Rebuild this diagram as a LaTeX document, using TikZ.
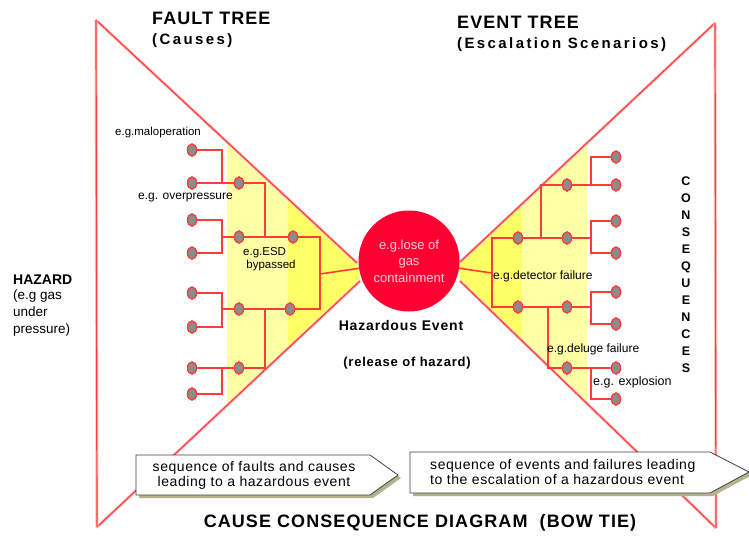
\documentclass[tikz,border=0pt]{standalone}
\usepackage{fontspec}
\setmainfont{Liberation Sans}
\newfontfamily\headfont[LetterSpace=6]{Liberation Sans}
\newfontfamily\subheadfont[LetterSpace=16]{Liberation Sans}
\newfontfamily\boxfont[LetterSpace=4]{Liberation Sans}
\usetikzlibrary{shapes.geometric}

\definecolor{tiered}{HTML}{FF3B3B}
\definecolor{tiehalo}{HTML}{FFC4C4}
\definecolor{eventred}{HTML}{FF0033}
\definecolor{eventtext}{HTML}{FFD0D8}
\definecolor{paleyellow}{HTML}{FFFFA6}
\definecolor{brightyellow}{HTML}{FFFF66}
\definecolor{knotgray}{HTML}{8C8C8C}
\definecolor{boxshadow}{HTML}{B4B48C}
\definecolor{boxline}{HTML}{404040}

\newcommand\setfs[1]{\fontsize{#1}{#1}\selectfont}

\tikzset{
  outline/.style={draw=tiered, line width=1.2pt, preaction={draw=tiehalo, line width=3pt}},
  branch/.style={draw=tiered, line width=1.6pt},
  twig/.style={draw=tiered, line width=2.2pt},
  knot/.style={ellipse, fill=knotgray, draw=tiered, line width=1.2pt, inner sep=0pt,
               minimum width=9pt, minimum height=12pt},
  lbl/.style={inner sep=0pt, text=black},
  seqbox/.style={draw=boxline, fill=white, line width=0.8pt},
  seqshadow/.style={fill=boxshadow, draw=none}
}

\begin{document}
\begin{tikzpicture}[x=1pt,y=-1pt]
\useasboundingbox (0,0) rectangle (749,540);
\fill[white] (0,0) rectangle (749,540);

% ---- yellow bands inside the two wedges ----
\begin{scope}
  \clip (96,20) -- (357,263) -- (360,281) -- (97,527) -- cycle;
  \fill[paleyellow] (227,0) rectangle (288,540);
  \fill[brightyellow] (288,0) rectangle (380,540);
\end{scope}
\begin{scope}
  \clip (715,23) -- (460,262) -- (460,281) -- (716,528) -- cycle;
  \fill[brightyellow] (440,0) rectangle (522,540);
  \fill[paleyellow] (522,0) rectangle (587,540);
\end{scope}

% ---- outer bow-tie outline ----
\draw[outline] (96,20) -- (357,263);
\draw[outline] (97,527) -- (360,281);
\draw[outline] (96,20) -- (97,527);
\draw[outline] (715,23) -- (460,262);
\draw[outline] (716,528) -- (460,281);
\draw[outline] (715,23) -- (716,528);

% ---- central hazardous event ----
\node[circle, fill=eventred, minimum size=101pt, inner sep=0pt, align=center,
      text=eventtext, font=\fontsize{13}{16.5}\selectfont] (ev) at (409,261)
      {e.g.lose of\\gas\\containment};

% ---- fault tree (left) ----
\foreach \n/\y in {1/150,2/183,3/220,4/253,5/293,6/327,7/368,8/394}
  \node[knot] (L\n) at (192,\y) {};
\node[knot] (M1) at (239,183) {};
\node[knot] (M2) at (239,237) {};
\node[knot] (M3) at (239,309) {};
\node[knot] (M4) at (239,368) {};
\node[knot] (N1) at (293,237) {};
\node[knot] (N2) at (290,309) {};

\coordinate (jA) at (222,183);
\coordinate (jB) at (222,237);
\coordinate (jC) at (222,309);
\coordinate (jD) at (222,368);
\coordinate (jE) at (265,237);
\coordinate (jF) at (265,309);
\coordinate (jG) at (320,274);

\draw[twig] (L1) -| (jA);
\draw[branch] (L2) -- (M1);
\draw[branch] (L3) -| (jB);
\draw[twig] (L4) -| (jB);
\draw[branch] (jB) -- (M2);
\draw[twig] (L5) -| (jC);
\draw[twig] (L6) -| (jC);
\draw[branch] (jC) -- (M3);
\draw[branch] (L7) -- (M4);
\draw[branch] (L8) -| (jD);
\draw[branch] (M1) -| (jE);
\draw[branch] (M2) -- (N1);
\draw[branch] (M3) -- (N2);
\draw[branch] (M4) -| (jF);
\draw[branch] (N1) -| (jG);
\draw[branch] (N2) -| (jG);
\draw[branch] (jG) -- (ev);

% ---- event tree (right) ----
\node[knot] (R1) at (518,238) {};
\node[knot] (R2) at (518,307) {};
\node[knot] (S1) at (567,185) {};
\node[knot] (S2) at (567,238) {};
\node[knot] (S3) at (567,307) {};
\node[knot] (S4) at (567,368) {};
\foreach \n/\y in {1/157,2/185,3/221,4/253,5/292,6/324,7/368,8/399}
  \node[knot] (T\n) at (616,\y) {};

\coordinate (jH) at (492,273);
\coordinate (jI) at (541,238);
\coordinate (jJ) at (548,307);
\coordinate (jK) at (591,185);
\coordinate (jL) at (591,238);
\coordinate (jM) at (591,307);
\coordinate (jN) at (591,368);

\draw[branch] (ev) -- (jH);
\draw[branch] (jH) |- (R1);
\draw[branch] (jH) |- (R2);
\draw[branch] (R1) -- (S2);
\draw[branch] (jI) |- (S1);
\draw[branch] (R2) -- (S3);
\draw[branch] (jJ) |- (S4);
\draw[twig] (S1) -- (T2);
\draw[twig] (jK) |- (T1);
\draw[branch] (S2) -- (jL);
\draw[branch] (jL) |- (T3);
\draw[twig] (jL) |- (T4);
\draw[branch] (S3) -- (jM);
\draw[twig] (jM) |- (T5);
\draw[twig] (jM) |- (T6);
\draw[branch] (S4) -- (T7);
\draw[twig] (jN) |- (T8);

% redraw knots above their connectors
\foreach \k in {L1,L2,L3,L4,L5,L6,L7,L8,M1,M2,M3,M4,N1,N2,R1,R2,S1,S2,S3,S4,T1,T2,T3,T4,T5,T6,T7,T8}
  \node[knot] at (\k) {};

% ---- headings ----
\node[lbl, anchor=west, font=\headfont\bfseries\setfs{18}] (ft) at (152,18) {FAULT TREE};
\node[lbl, anchor=west, font=\subheadfont\bfseries\setfs{15}] (ftc) at (152,41) {(Causes)};
\node[lbl, anchor=west, font=\headfont\bfseries\setfs{18}] (et) at (457,22) {EVENT TREE};
\node[lbl, anchor=west, font=\subheadfont\bfseries\setfs{15}] (ets) at (457,45) {(Escalation Scenarios)};

\node[lbl, anchor=west, font=\bfseries\setfs{14}] (hz) at (13,280) {HAZARD};
\node[lbl, anchor=north west, align=left, font=\fontsize{13.5}{17}\selectfont] (hzd) at (13,290)
  {(e.g gas\\under\\pressure)};

% ---- fault labels ----
\node[lbl, anchor=west, font=\setfs{11.5}] (lm) at (115,133) {e.g.maloperation};
\node[lbl, anchor=west, font=\setfs{12}] (lo) at (138,198) {e.g. overpressure};
\node[lbl, anchor=north west, align=left, font=\fontsize{11.5}{13.5}\selectfont] (le) at (243,247) {e.g.ESD\\\ bypassed};

% ---- event labels ----
\node[lbl, font=\headfont\bfseries\setfs{14}] (he) at (401,325) {Hazardous Event};
\node[lbl, font=\headfont\bfseries\setfs{13}] (hr) at (407,363) {(release of hazard)};
\node[lbl, anchor=west, font=\setfs{12}] (ld) at (493,276) {e.g.detector failure};
\node[lbl, anchor=west, font=\setfs{12}] (lg) at (547,349) {e.g.deluge failure};
\node[lbl, anchor=west, font=\setfs{12.5}] (lx) at (593,382) {e.g. explosion};

\node[lbl, anchor=north, align=center, font=\bfseries\setfs{12.5}] (cq) at (686,177)
  {C\\[4.5pt]O\\[4.5pt]N\\[4.5pt]S\\[4.5pt]E\\[4.5pt]Q\\[4.5pt]U\\[4.5pt]E\\[4.5pt]N\\[4.5pt]C\\[4.5pt]E\\[4.5pt]S};

% ---- sequence arrows ----
\fill[seqshadow] (139,458) -- (373,458) -- (401,478) -- (373,498) -- (139,498) -- cycle;
\draw[seqbox] (136,455) -- (370,455) -- (398,475) -- (370,495) -- (136,495) -- cycle;
\node[lbl, align=center, font=\boxfont\setfs{14}] (sf) at (254,475)
  {sequence of faults and causes\\[1pt]leading to a hazardous event};

\fill[seqshadow] (413,455) -- (713,455) -- (752,475) -- (713,496) -- (413,496) -- cycle;
\draw[seqbox] (410,452) -- (710,452) -- (749,472) -- (710,493) -- (410,493) -- cycle;
\node[lbl, anchor=west, align=left, font=\boxfont\setfs{14}] (se) at (430,472)
  {sequence of events and failures leading\\[1pt]to the escalation of a hazardous event};

% ---- caption ----
\node[lbl, font=\headfont\bfseries\setfs{18}] (cap) at (420,523) {CAUSE CONSEQUENCE DIAGRAM\ \ (BOW TIE)};
\end{tikzpicture}
\end{document}
